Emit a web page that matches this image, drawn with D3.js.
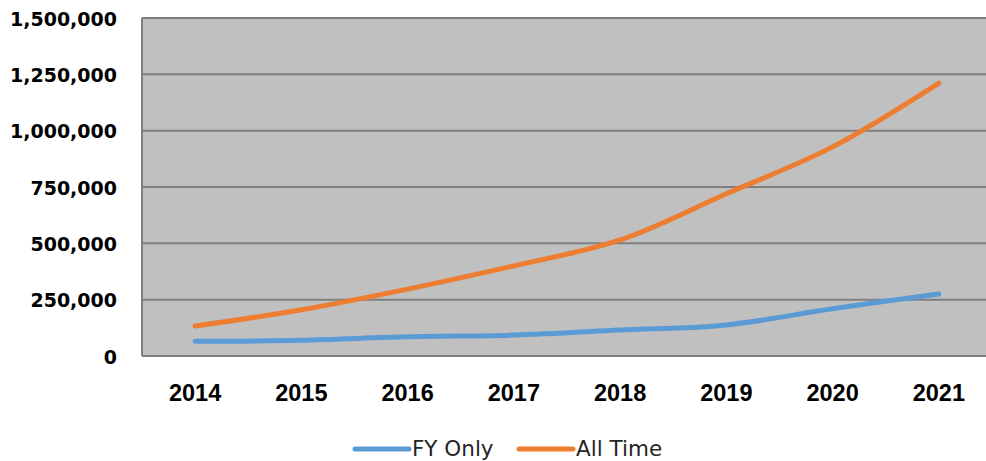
<!DOCTYPE html>
<html>
<head>
<meta charset="utf-8">
<script src="https://cdn.jsdelivr.net/npm/d3@7"></script>
<style>
  body { margin: 0; background: #fff; }
  svg { display: block; }
</style>
</head>
<body>
<div id="chart"></div>
<script>
// chart data
var years = ["2014", "2015", "2016", "2017", "2018", "2019", "2020", "2021"];
var fyOnly = [65000, 70000, 85000, 93000, 115000, 138000, 210000, 275000];
var allTime = [133000, 205000, 297000, 400000, 515000, 720000, 928000, 1211000];
var yTicks = [0, 250000, 500000, 750000, 1000000, 1250000, 1500000];
var seriesNames = ["FY Only", "All Time"];
var seriesColors = ["#5b9bd5", "#ed7d31"];

var W = 986, H = 461;
var margin = {top: 18, right: -6, bottom: 105, left: 142};
var width = W - margin.left - margin.right;
var height = H - margin.top - margin.bottom;

var svg = d3.select("#chart")
    .append("svg")
    .attr("width", W)
    .attr("height", H);

var g = svg.append("g")
    .attr("transform", "translate(" + margin.left + "," + margin.top + ")");

// plot background
g.append("rect")
    .attr("width", width)
    .attr("height", height)
    .attr("fill", "#c0c0c0");

var x = d3.scaleBand()
    .domain(years)
    .range([0, width]);

var y = d3.scaleLinear()
    .domain([0, 1500000])
    .range([height, 0]);

// gridlines
g.append("g")
    .selectAll("line")
    .data(yTicks)
    .enter()
    .append("line")
    .attr("x1", 0)
    .attr("x2", width)
    .attr("y1", function (d) { return y(d); })
    .attr("y2", function (d) { return y(d); })
    .attr("stroke", "#7f7f7f")
    .attr("stroke-width", 2);

// left border
g.append("line")
    .attr("x1", 0).attr("x2", 0)
    .attr("y1", 0).attr("y2", height)
    .attr("stroke", "#7f7f7f")
    .attr("stroke-width", 2);

// Y axis
var yAxis = g.append("g")
    .call(d3.axisLeft(y).tickValues(yTicks).tickSize(0).tickPadding(25)
        .tickFormat(d3.format(",")));
yAxis.select(".domain").remove();
yAxis.selectAll("text")
    .attr("dy", "0.37em")
    .style("font-family", "'DejaVu Sans', sans-serif")
    .style("font-size", "19px")
    .style("font-weight", "bold")
    .attr("fill", "#000");

// X axis
var xAxis = g.append("g")
    .attr("transform", "translate(0," + height + ")")
    .call(d3.axisBottom(x).tickSize(0));
xAxis.select(".domain").remove();
xAxis.selectAll("text")
    .attr("y", 45)
    .attr("dy", 0)
    .style("font-family", "'Liberation Sans', Arial, sans-serif")
    .style("font-size", "23.5px")
    .style("font-weight", "bold")
    .attr("fill", "#000");

// lines
var line = d3.line()
    .x(function (d, i) { return x(years[i]) + x.bandwidth() / 2; })
    .y(function (d) { return y(d); })
    .curve(d3.curveCatmullRom);

[fyOnly, allTime].forEach(function (s, i) {
    g.append("path")
        .datum(s)
        .attr("d", line)
        .attr("fill", "none")
        .attr("stroke", seriesColors[i])
        .attr("stroke-width", 5)
        .attr("stroke-linecap", "round")
        .attr("stroke-linejoin", "round");
});

// legend
var legendX = [355, 519];
var legend = svg.append("g");
seriesNames.forEach(function (name, i) {
    legend.append("line")
        .attr("x1", legendX[i])
        .attr("x2", legendX[i] + 54)
        .attr("y1", 449)
        .attr("y2", 449)
        .attr("stroke", seriesColors[i])
        .attr("stroke-width", 5)
        .attr("stroke-linecap", "round");
    legend.append("text")
        .attr("x", legendX[i] + 57)
        .attr("y", 456)
        .style("font-family", "'DejaVu Sans', sans-serif")
        .style("font-size", "21.5px")
        .attr("fill", "#262626")
        .text(name);
});
</script>
</body>
</html>
